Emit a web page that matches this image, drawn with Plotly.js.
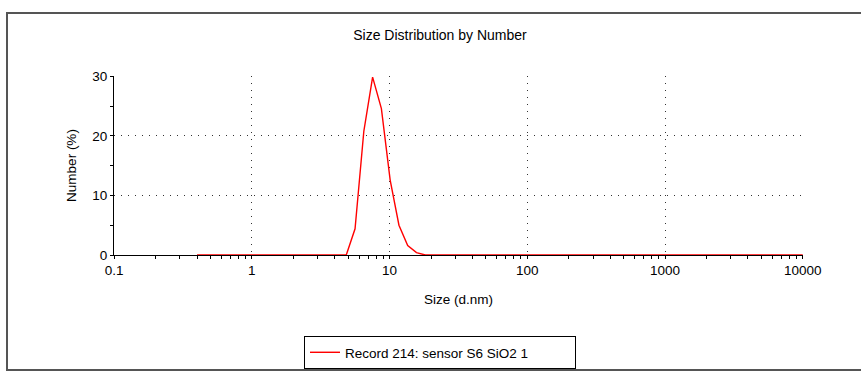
<!DOCTYPE html>
<html>
<head>
<meta charset="utf-8">
<script src="https://cdn.plot.ly/plotly-3.0.1.min.js"></script>
<style>
  html, body { margin: 0; padding: 0; background: #fff; overflow: hidden; }
  #chart { width: 861px; height: 374px; }
  #frame { position: absolute; left: 6px; top: 12px; width: 900px; height: 355px;
           border: 2px solid #555; pointer-events: none; }
</style>
</head>
<body>
<div id="chart"></div>
<div id="frame"></div>
<script>
// Size bins (d.nm) and number distribution (%)
const sizes = [0.4, 0.4632, 0.5365, 0.6213, 0.7195, 0.8332, 0.9649, 1.117, 1.294, 1.499,
  1.736, 2.010, 2.328, 2.696, 3.122, 3.615, 4.187, 4.849, 5.615, 6.503,
  7.531, 8.721, 10.10, 11.70, 13.54, 15.69, 18.17, 21.04, 24.36, 28.21,
  32.67, 37.84, 43.82, 50.75, 58.77, 68.06, 78.82, 91.28, 105.7, 122.4,
  141.8, 164.2, 190.1, 220.2, 255.0, 295.3, 342.0, 396.1, 458.7, 531.2,
  615.1, 712.4, 825.0, 955.4, 1106, 1281, 1484, 1718, 1990, 2305,
  2669, 3091, 3580, 4145, 4801, 5560, 6439, 7456, 8635, 10000];
const numberPct = [0, 0, 0, 0, 0, 0, 0, 0, 0, 0,
  0, 0, 0, 0, 0, 0, 0, 0, 4.4, 20.8,
  29.9, 24.6, 12.6, 5.0, 1.6, 0.4, 0, 0, 0, 0,
  0, 0, 0, 0, 0, 0, 0, 0, 0, 0,
  0, 0, 0, 0, 0, 0, 0, 0, 0, 0,
  0, 0, 0, 0, 0, 0, 0, 0, 0, 0,
  0, 0, 0, 0, 0, 0, 0, 0, 0, 0];
const seriesName = "Record 214: sensor S6 SiO2 1";
const xTickVals = [0.1, 1, 10, 100, 1000, 10000];
const xTickText = ["0.1", "1", "10", "100", "1000", "10000"];
const yTickVals = [0, 10, 20, 30];
const yTickText = ["0", "10", "20", "30"];

const FONT = "Liberation Sans, Arial, sans-serif";
const FS = 13.5;

const traces = [{
  x: sizes, y: numberPct, type: "scatter", mode: "lines",
  name: seriesName,
  line: { color: "#ff0000", width: 1.4 },
  cliponaxis: false
}];

const gridDash = "1px,6px";

const layout = {
  width: 861, height: 374,
  margin: { l: 114, r: 58, t: 76, b: 119, autoexpand: false },
  paper_bgcolor: "#fff", plot_bgcolor: "#fff",
  font: { family: FONT, size: FS, color: "#000" },
  title: { text: "Size Distribution by Number", x: 440 / 861, xanchor: "center", xref: "container",
           y: 1 - 35 / 374, yanchor: "middle", yref: "container",
           font: { family: FONT, size: 14, color: "#000" } },
  showlegend: true,
  legend: {
    xref: "paper", yref: "paper", orientation: "h",
    entrywidth: 225, entrywidthmode: "pixels",
    x: (304 - 114) / 689, xanchor: "left", y: (255 - 336) / 179, yanchor: "top",
    bordercolor: "#000", borderwidth: 1, bgcolor: "#fff",
    font: { family: FONT, size: 13.5, color: "#000" }
  },
  xaxis: {
    type: "log", range: [-1.001, 4.002], automargin: false,
    tickvals: xTickVals, ticktext: xTickText,
    ticks: "outside", ticklen: 3, tickcolor: "#000", tickwidth: 1,
    minor: { dtick: "D1", ticks: "outside", ticklen: 3, tickcolor: "#000", showgrid: false },
    showline: true, linecolor: "#000", linewidth: 1,
    showgrid: true, gridcolor: "#333", gridwidth: 1, griddash: gridDash,
    zeroline: false, layer: "below traces",
    title: { text: "Size (d.nm)", font: { family: FONT, size: FS, color: "#000" }, standoff: 17 },
    tickfont: { family: FONT, size: FS, color: "#000" }
  },
  xaxis2: {
    type: "log", range: [-1.001, 4.002], overlaying: "x", anchor: "y", side: "bottom",
    tickvals: xTickVals, showticklabels: false,
    ticks: "inside", ticklen: 3, tickcolor: "#000",
    minor: { dtick: "D1", ticks: "inside", ticklen: 3, tickcolor: "#000", showgrid: false },
    showline: false, showgrid: false, zeroline: false, layer: "below traces"
  },
  yaxis: {
    range: [0, 30.08], automargin: false,
    tickvals: yTickVals, ticktext: yTickText,
    ticks: "outside", ticklen: 3, tickcolor: "#000",
    minor: { dtick: 5, tick0: 0, ticks: "outside", ticklen: 3, tickcolor: "#000", showgrid: false },
    showline: true, linecolor: "#000", linewidth: 1,
    showgrid: true, gridcolor: "#333", gridwidth: 1, griddash: gridDash,
    zeroline: false, layer: "below traces",
    title: { text: "Number (%)", font: { family: FONT, size: FS, color: "#000" }, standoff: 12 },
    tickfont: { family: FONT, size: FS, color: "#000" }
  },
  yaxis2: {
    range: [0, 30.08], overlaying: "y", anchor: "x", side: "left",
    tickvals: yTickVals, showticklabels: false,
    ticks: "inside", ticklen: 3, tickcolor: "#000",
    minor: { dtick: 5, tick0: 0, ticks: "inside", ticklen: 3, tickcolor: "#000", showgrid: false },
    showline: false, showgrid: false, zeroline: false, layer: "below traces"
  }
};

Plotly.newPlot("chart", traces, layout, { staticPlot: true, displayModeBar: false });
</script>
</body>
</html>
